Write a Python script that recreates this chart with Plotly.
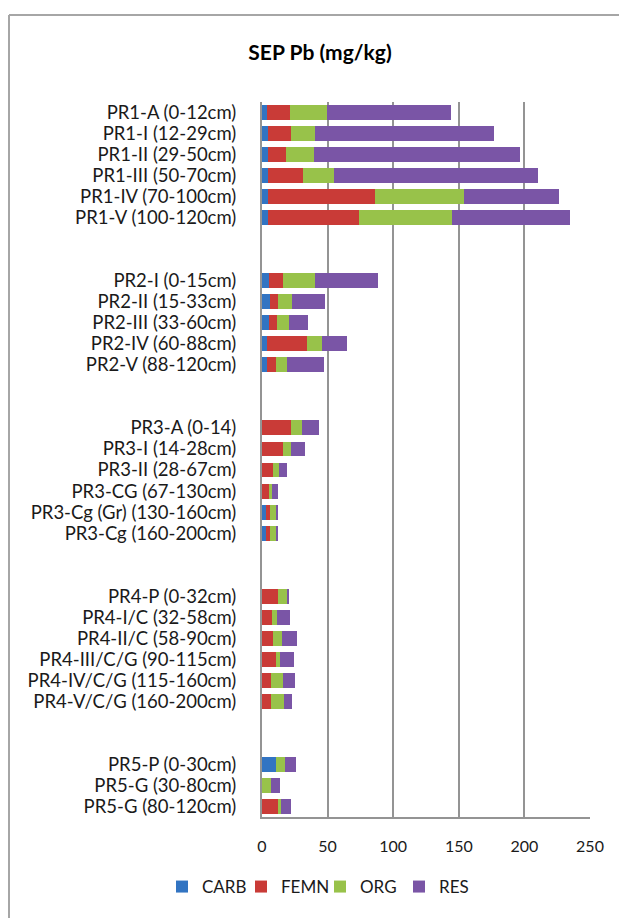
import plotly.graph_objects as go

categories = [
    "PR1-A (0-12cm)", "PR1-I (12-29cm)", "PR1-II (29-50cm)", "PR1-III (50-70cm)",
    "PR1-IV (70-100cm)", "PR1-V (100-120cm)", " ", "  ",
    "PR2-I (0-15cm)", "PR2-II (15-33cm)", "PR2-III (33-60cm)", "PR2-IV (60-88cm)",
    "PR2-V (88-120cm)", "   ", "    ",
    "PR3-A (0-14)", "PR3-I (14-28cm)", "PR3-II (28-67cm)", "PR3-CG (67-130cm)",
    "PR3-Cg (Gr) (130-160cm)", "PR3-Cg (160-200cm)", "     ", "      ",
    "PR4-P (0-32cm)", "PR4-I/C (32-58cm)", "PR4-II/C (58-90cm)", "PR4-III/C/G (90-115cm)",
    "PR4-IV/C/G (115-160cm)", "PR4-V/C/G (160-200cm)", "       ", "        ",
    "PR5-P (0-30cm)", "PR5-G (30-80cm)", "PR5-G (80-120cm)",
]

N = None
carb = [4.0, 4.6, 4.6, 4.6, 4.6, 4.6, N, N,
        5.6, 6.1, 5.6, 4.1, 4.1, N, N,
        0.3, 0.3, 0.3, 0.3, 3.3, 3.3, N, N,
        0, 0, 0, 0, 0, 0, N, N,
        10.9, 0, 0]
femn = [17.5, 17.8, 14.0, 27.0, 81.7, 69.5, N, N,
        10.6, 6.3, 6.1, 30.4, 6.8, N, N,
        22.0, 15.9, 8.3, 5.3, 3.0, 3.0, N, N,
        12.4, 7.9, 8.6, 10.9, 7.1, 7.1, N, N,
        0, 0, 12.4]
org = [28.0, 18.3, 21.3, 23.6, 67.8, 70.8, N, N,
       24.4, 10.7, 9.1, 11.4, 8.4, N, N,
       8.4, 6.1, 4.6, 2.3, 4.6, 4.6, N, N,
       6.9, 3.8, 6.9, 3.1, 9.1, 9.9, N, N,
       6.9, 7.1, 2.3]
res = [94.5, 136.3, 156.9, 155.0, 72.3, 89.9, N, N,
       48.0, 25.1, 14.5, 19.1, 28.2, N, N,
       13.0, 10.7, 6.1, 4.5, 1.5, 1.5, N, N,
       0.8, 9.9, 11.4, 10.6, 9.2, 6.1, N, N,
       8.3, 6.9, 7.6]

series = [
    ("CARB", carb, "#3274c2"),
    ("FEMN", femn, "#c93b37"),
    ("ORG", org, "#98c24a"),
    ("RES", res, "#7a55a6"),
]

fig = go.Figure()
for name, vals, color in series:
    fig.add_trace(go.Bar(
        y=categories, x=vals, name=name, orientation="h",
        marker=dict(color=color, line=dict(width=0)),
        hoverinfo="skip",
    ))

FONT = "Lato, 'Open Sans', sans-serif"
FRAME = "#a6a6a6"

fig.update_layout(
    width=619, height=918,
    barmode="stack", bargap=0.29,
    paper_bgcolor="white", plot_bgcolor="white",
    margin=dict(l=262, r=29, t=102, b=101),
    font=dict(family=FONT, size=16, color="#1a1a1a"),
    title=dict(text="<b>SEP Pb (mg/kg)</b>", x=320 / 619, xref="container", xanchor="center",
               y=1 - 53 / 918, yref="container", yanchor="middle",
               font=dict(family=FONT, size=21, color="#000000")),
    showlegend=True,
    legend=dict(orientation="h", xref="container", yref="container",
                x=162 / 619, xanchor="left", y=1 - 887 / 918, yanchor="middle",
                font=dict(family=FONT, size=17, color="#1a1a1a"),
                itemwidth=30, entrywidth=34, entrywidthmode="pixels",
                traceorder="normal", itemclick=False),
    shapes=[
        dict(type="line", xref="paper", yref="paper",
             x0=(9 - 262) / 328, x1=(9 - 262) / 328,
             y0=(817 - 930) / 715, y1=(817 - 15) / 715,
             line=dict(color=FRAME, width=2), layer="below"),
        dict(type="line", xref="paper", yref="paper",
             x0=(9 - 262) / 328, x1=(640 - 262) / 328,
             y0=(817 - 15) / 715, y1=(817 - 15) / 715,
             line=dict(color=FRAME, width=2), layer="below"),
    ],
)

fig.update_xaxes(
    range=[0, 250], dtick=50, tick0=0,
    showgrid=True, gridcolor="#949494", gridwidth=2,
    showline=True, linecolor="#949494", linewidth=2,
    zeroline=False, ticks="", ticklabelstandoff=14,
    tickfont=dict(family=FONT, size=16, color="#1a1a1a"),
    fixedrange=True,
)
fig.update_yaxes(
    type="category", categoryorder="array", categoryarray=categories,
    autorange="reversed",
    tickmode="array", tickvals=categories, ticktext=categories,
    showgrid=False, showline=True, linecolor="#949494", linewidth=2,
    ticks="", ticklabelstandoff=20,
    tickfont=dict(family=FONT, size=18.5, color="#1a1a1a"),
    fixedrange=True,
)

fig.write_html("out.html", config={"displayModeBar": False},
               post_script="document.body.style.margin='0';document.body.style.overflow='hidden';")
